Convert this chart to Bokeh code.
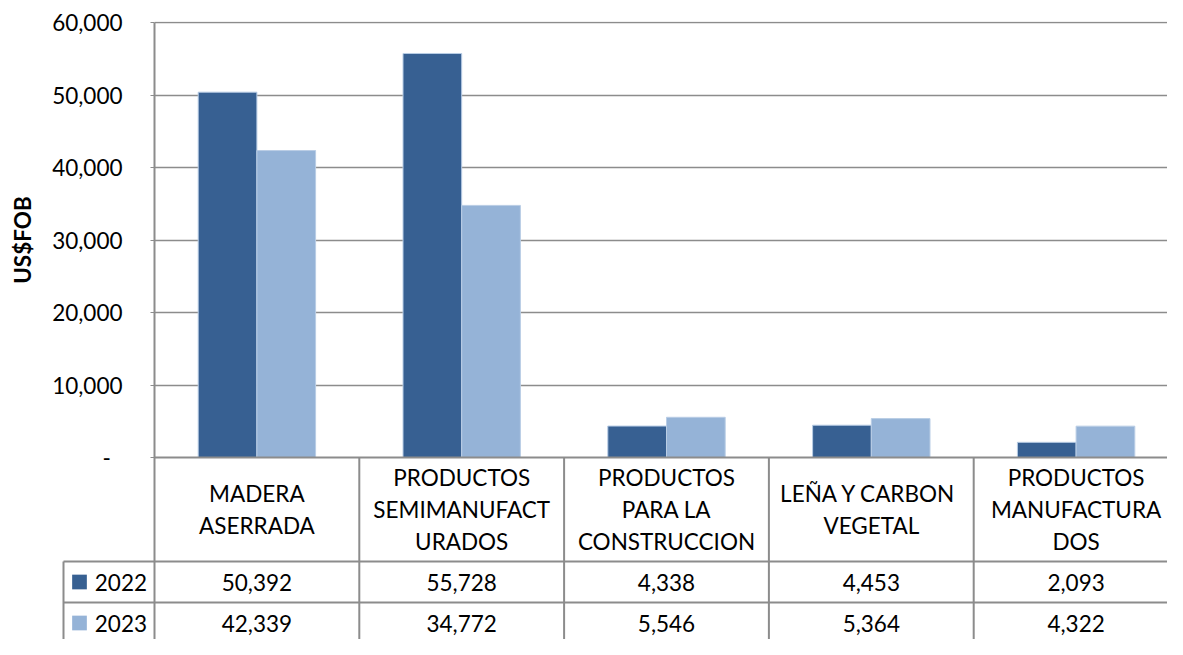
import math
from bokeh.plotting import figure
from bokeh.models import Range1d, FixedTicker, CustomJSTickFormatter
from bokeh.embed import file_html
from bokeh.resources import INLINE
from bokeh.core.properties import value

# ---------------- data ----------------
categories = [
    "MADERA\nASERRADA",
    "PRODUCTOS\nSEMIMANUFACT\nURADOS",
    "PRODUCTOS\nPARA LA\nCONSTRUCCION",
    "LEÑA Y  CARBON\nVEGETAL",
    "PRODUCTOS\nMANUFACTURA\nDOS",
]
series_names = ["2022", "2023"]
values_2022 = [50392, 55728, 4338, 4453, 2093]
values_2023 = [42339, 34772, 5546, 5364, 4322]
y_ticks = [0, 10000, 20000, 30000, 40000, 50000, 60000]
y_label = "US$FOB"

# ---------------- style / layout (pixels) ----------------
COL_2022 = "#376092"
COL_2023 = "#95B3D7"
GRID = "#8C8C8C"
FONT = "Lato"
FS = "22.5px"

W, H = 1167, 639
FRAME_L = 154          # left edge of plot area
FRAME_T = 21           # top edge of plot area
TOP_Y = 22             # pixel row of the highest tick
BASE_Y = 457           # pixel row of the zero line
COL_W = 204.8          # px per category column
BAR_W = 58.7 / COL_W   # bar width in category units
HEADER_H = 104
ROW_H = 41
LEG_W = 91             # legend column width
KEY = 14.7             # legend key size
YLABEL_X = 21.7        # centre of the rotated axis title

px_per = (BASE_Y - TOP_Y) / y_ticks[-1]
y_start = -(H - BASE_Y) / px_per
y_end = y_ticks[-1] + (TOP_Y - FRAME_T) / px_per
x0 = -0.5
x_end = x0 + (W - FRAME_L) / COL_W
xl = x0 - LEG_W / COL_W

idx = list(range(len(categories)))

p = figure(width=W, height=H, output_backend="svg", toolbar_location=None,
           x_range=Range1d(x0, x_end), y_range=Range1d(y_start, y_end),
           x_axis_location=None,
           min_border_left=FRAME_L, min_border_top=FRAME_T,
           min_border_bottom=0, min_border_right=0)
# table coordinates: pixels below the zero line
p.extra_y_ranges = {"tab": Range1d(start=H - BASE_Y, end=-(BASE_Y - FRAME_T))}
p.outline_line_color = None
p.background_fill_color = "white"
p.border_fill_color = "white"
p.xgrid.visible = False
p.ygrid.ticker = FixedTicker(ticks=y_ticks[1:])
p.ygrid.grid_line_color = GRID
p.ygrid.grid_line_width = 1.5

yax = p.yaxis[0]
yax.ticker = FixedTicker(ticks=y_ticks)
yax.formatter = CustomJSTickFormatter(code="""
if (tick == 0) { return '-\\u00a0\\u00a0'; }
return Math.round(tick).toString().replace(/\\B(?=(\\d{3})+(?!\\d))/g, ',');
""")
yax.bounds = (y_start, y_ticks[-1])
yax.axis_line_color = GRID
yax.axis_line_width = 2
yax.major_tick_line_color = GRID
yax.major_tick_out = 4
yax.major_tick_in = 0
yax.minor_tick_line_color = None
yax.major_label_standoff = 28
yax.major_label_text_font = FONT
yax.major_label_text_font_size = FS
yax.major_label_text_color = "#000000"

# axis title, centred on the value part of the axis
p.text(x=[x0 - (FRAME_L - YLABEL_X) / COL_W], y=[y_ticks[-1] / 2], text=[y_label],
       angle=math.pi / 2, text_align="center", text_baseline="middle",
       text_font=value(FONT), text_font_size=FS, text_font_style="bold",
       text_color="#000000", level="overlay")

# bars
p.vbar(x=[i - BAR_W / 2 for i in idx], top=values_2022, width=BAR_W,
       fill_color=COL_2022, line_color="#B9CDE5", line_width=1)
p.vbar(x=[i + BAR_W / 2 for i in idx], top=values_2023, width=BAR_W,
       fill_color=COL_2023, line_color="#B9CDE5", line_width=1)

# ---------------- data table ----------------
row_tops = [HEADER_H, HEADER_H + ROW_H]
# zero line / table top
p.segment(x0=[x0], y0=[0], x1=[x_end], y1=[0], line_color=GRID, line_width=2)
# row lines inside plot area
p.segment(x0=[x0] * 2, y0=row_tops, x1=[x_end] * 2, y1=row_tops,
          line_color=GRID, line_width=2, y_range_name="tab")
# column lines
vx = [x0 + k + 1 for k in range(len(categories) - 1)]
p.segment(x0=vx, y0=[0] * len(vx), x1=vx, y1=[H] * len(vx),
          line_color=GRID, line_width=2, y_range_name="tab")

# legend column (left of the plot area)
p.segment(x0=[xl] * 2, y0=row_tops, x1=[x0] * 2, y1=row_tops,
          line_color=GRID, line_width=2, y_range_name="tab", level="overlay")
p.segment(x0=[xl], y0=[HEADER_H], x1=[xl], y1=[H],
          line_color=GRID, line_width=2, y_range_name="tab", level="overlay")

row_centers = [HEADER_H + ROW_H / 2, HEADER_H + ROW_H * 1.5]
key_cx = xl + 16 / COL_W
# square legend keys (thick butt-capped strokes)
p.segment(x0=[key_cx - KEY / 2 / COL_W] * 2, y0=row_centers,
          x1=[key_cx + KEY / 2 / COL_W] * 2, y1=row_centers,
          line_color=[COL_2022, COL_2023], line_width=KEY, line_cap="butt",
          y_range_name="tab", level="overlay")
p.text(x=[xl + 31.3 / COL_W] * 2, y=row_centers, text=series_names,
       text_align="left", text_baseline="middle",
       text_font=value(FONT), text_font_size=FS, text_color="#000000",
       y_range_name="tab", level="overlay")

# header labels
p.text(x=idx, y=[HEADER_H / 2] * len(idx), text=categories,
       text_align="center", text_baseline="middle",
       text_font=value(FONT), text_font_size=FS, text_color="#000000",
       text_line_height=1.2, y_range_name="tab")

for vals, yc in zip([values_2022, values_2023], row_centers):
    p.text(x=idx, y=[yc] * len(idx), text=[f"{v:,}" for v in vals],
           text_align="center", text_baseline="middle",
           text_font=value(FONT), text_font_size=FS, text_color="#000000",
           y_range_name="tab")

open("out.html", "w").write(file_html(p, INLINE))
